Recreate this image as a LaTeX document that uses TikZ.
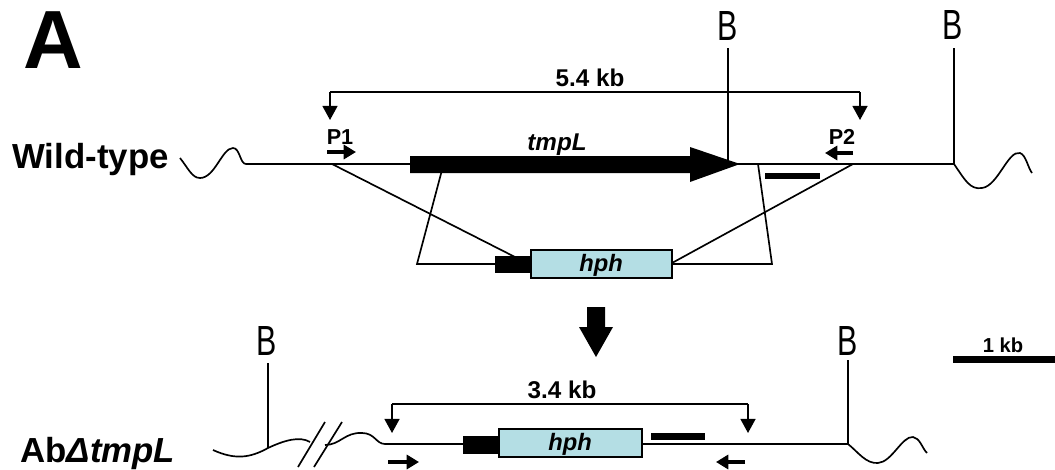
\documentclass[tikz,border=0pt]{standalone}
\usepackage{fontspec}
\setmainfont{Liberation Sans}
\usetikzlibrary{arrows.meta}
\definecolor{hphblue}{RGB}{180,222,228}
\tikzset{
  thin line/.style={line width=0.95pt, black},
  bracket/.style={line width=0.95pt, -{Triangle[width=8.5pt,length=8pt]}},
  primer/.style={line width=1.8pt, -{Triangle[width=8pt,length=7pt]}},
  lbl/.style={font=\bfseries\fontsize{13.8}{15}\selectfont, inner sep=0pt},
  big/.style={font=\bfseries\fontsize{19.8}{22}\selectfont, inner sep=0pt},
  blbl/.style={font=\fontsize{24}{26}\selectfont, inner sep=0pt, xscale=0.72},
  hphbox/.style={draw=black, line width=0.85pt, fill=hphblue},
}
\begin{document}
\begin{tikzpicture}[x=0.02cm, y=-0.02cm]
\useasboundingbox (0,0) rectangle (1055,470);

% panel letter
\node[font=\bfseries\fontsize{47}{50}\selectfont, inner sep=0pt] (A) at (53,40) {A};

% ---------- Wild-type ----------
\node[big, anchor=west] (wt) at (12,160) {Wild-type};
\draw[thin line] (180,158) .. controls (188,168) and (192,178) .. (200,178)
  .. controls (215,178) and (222,148) .. (233,148)
  .. controls (240,148) and (240,164) .. (246,164) -- (954,164)
  .. controls (965,180) and (970,190) .. (982,188)
  .. controls (998,186) and (1008,150) .. (1020,153)
  .. controls (1026,155) and (1028,168) .. (1032,173);

% BamHI sites
\coordinate (b1t) at (728,48); \coordinate (b1b) at (728,164);
\coordinate (b2t) at (954,48); \coordinate (b2b) at (954,164);
\draw[thin line] (b1t) -- (b1b);
\draw[thin line] (b2t) -- (b2b);
\node[blbl] (B1) at (728,26) {B};
\node[blbl] (B2) at (953,25) {B};

% 5.4 kb bracket
\coordinate (k1) at (330,92); \coordinate (k2) at (860,92);
\draw[thin line] (k1) -- (k2);
\draw[bracket] (k1) -- (330,120);
\draw[bracket] (k2) -- (860,120);
\node[lbl] (kb54) at (590,78) {5.4 kb};

% primers
\node[lbl, font=\bfseries\fontsize{12.3}{14}\selectfont] (P1) at (340,137) {P1};
\node[lbl, font=\bfseries\fontsize{12.3}{14}\selectfont] (P2) at (842,137) {P2};
\draw[primer] (327,152) -- (356,152);
\draw[primer] (853,153) -- (825,153);

% tmpL gene arrow
\fill[black] (410,156) -- (690,156) -- (690,147) -- (740,164) -- (690,182) -- (690,173) -- (410,173) -- cycle;
\node[lbl, font=\bfseries\itshape\fontsize{13.8}{15}\selectfont] (tmpL) at (557,145) {tmpL};

% probe
\fill[black] (765,173) rectangle (820,179);

% crossover lines
\draw[thin line] (332,164) -- (515,257);
\draw[thin line] (442,170) -- (417,264) -- (495,264);
\draw[thin line] (758,164) -- (772,264) -- (672,264);
\draw[thin line] (853,164) -- (672,263);

% hph cassette (top)
\fill[black] (495,256) rectangle (531,273);
\draw[hphbox] (531,250) rectangle (672,278);
\node[lbl, font=\bfseries\itshape\fontsize{13.5}{15}\selectfont] (hph1) at (601,265) {hph};

% big arrow
\fill[black] (587,307) -- (605,307) -- (605,327) -- (613,327) -- (596,357) -- (579,327) -- (587,327) -- cycle;

% ---------- mutant ----------
\node[big, anchor=west] (mut) at (20,454) {Ab\textit{Δ}\textit{tmpL}};

\draw[thin line] (213,450) .. controls (235,460) and (250,458) .. (268,448)
  .. controls (285,440) and (300,436) .. (310,442);
\draw[thin line] (325,445) .. controls (340,445) and (345,432) .. (362,433)
  .. controls (375,433) and (376,444) .. (385,444) -- (848,444)
  .. controls (858,452) and (866,464) .. (878,463)
  .. controls (892,462) and (902,436) .. (913,437)
  .. controls (920,438) and (922,448) .. (927,453);
\draw[thin line] (298,467) -- (325,422);
\draw[thin line] (314,467) -- (342,422);

\draw[thin line] (268,363) -- (268,448);
\node[blbl] (B3) at (267,341) {B};
\draw[thin line] (848,360) -- (848,444);
\node[blbl] (B4) at (848,341) {B};

% 3.4 kb bracket
\coordinate (m1) at (392,404); \coordinate (m2) at (748,404);
\draw[thin line] (m1) -- (m2);
\draw[bracket] (m1) -- (392,433);
\draw[bracket] (m2) -- (748,433);
\node[lbl] (kb34) at (562,390) {3.4 kb};

% hph cassette (bottom)
\fill[black] (463,436) rectangle (499,454);
\draw[hphbox] (499,429) rectangle (642,457);
\node[lbl, font=\bfseries\itshape\fontsize{13.5}{15}\selectfont] (hph2) at (570,444) {hph};
\fill[black] (651,433) rectangle (705,440);

% primers bottom
\draw[primer] (388,462) -- (419,462);
\draw[primer] (745,462) -- (716,462);

% scale bar
\fill[black] (953,356) rectangle (1055,363);
\node[lbl, font=\bfseries\fontsize{11.5}{13}\selectfont] (kb1) at (1003,345) {1 kb};
\end{tikzpicture}
\end{document}
